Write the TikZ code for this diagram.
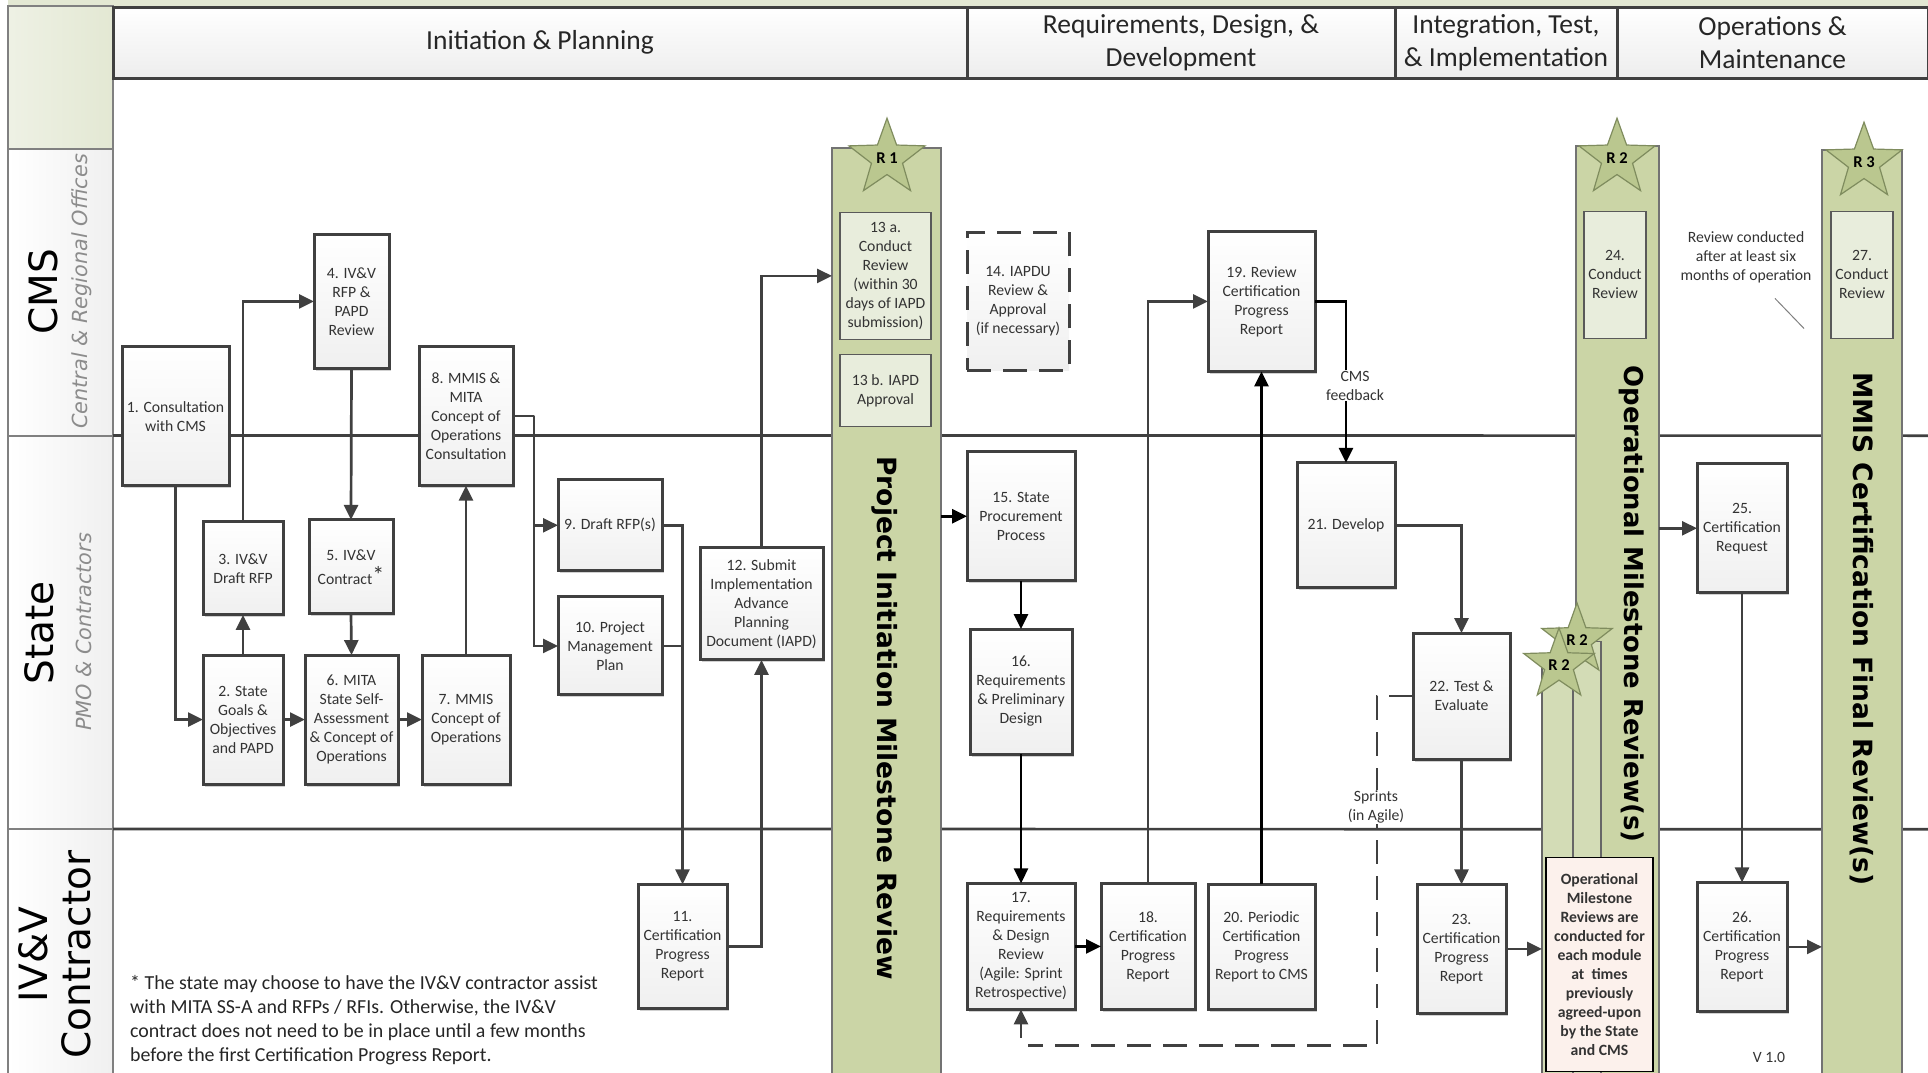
\documentclass[tikz,border=0pt]{standalone}
\usepackage{fontspec}
\setmainfont{Carlito}
\newfontfamily\vfam{DejaVu Sans}
\usetikzlibrary{shapes.geometric,shadows,arrows.meta,calc}
\definecolor{ink}{HTML}{404040}
\definecolor{txt}{HTML}{333333}
\definecolor{barg}{HTML}{CBD5A6}
\definecolor{barl}{HTML}{D3DCB6}
\definecolor{bandg}{HTML}{E3E8D3}
\definecolor{inner}{HTML}{E8EDDC}
\definecolor{pinkb}{HTML}{FCF1EC}
\definecolor{starf}{HTML}{BAC78F}
\definecolor{stard}{HTML}{7F8C5E}
\tikzset{
 base/.style={rectangle,inner sep=0pt,outer sep=0pt,align=center,text=txt,font=\fontsize{15.7}{19}\selectfont},
 procbox/.style={base,draw=ink,line width=3pt,top color=white,bottom color=black!6,drop shadow={shadow xshift=2pt,shadow yshift=-2.5pt,opacity=.18,fill=black}},
 dashbox/.style={base,draw=ink,line width=3pt,dash pattern=on 24pt off 12pt,top color=white,bottom color=black!6},
 innerbox/.style={base,draw=black!65,line width=1.8pt,fill=inner},
 notebox/.style={base,draw=black,line width=1.4pt,fill=pinkb,font=\fontsize{15.7}{19}\selectfont\bfseries},
 hdr/.style={base,draw=ink,line width=3pt,top color=white,bottom color=black!7,text=black!85,font=\fontsize{27.5}{32.5}\selectfont},
 bar/.style={rectangle,inner sep=0pt,outer sep=0pt,fill=barg,draw=black!55,line width=1.4pt},
 lane/.style={rectangle,inner sep=0pt,outer sep=0pt,left color=white,right color=black!6,draw=black!50,line width=1.4pt},
 rstar/.style={star,star points=5,star point ratio=2.45,inner sep=0pt,outer sep=0pt,draw=stard,line width=1.2pt,fill=starf,text=black,font=\fontsize{16.5}{16.5}\selectfont\bfseries},
 barlabel/.style={rotate=-90,inner sep=0pt,text=black,font=\vfam\bfseries\fontsize{26.5}{30}\selectfont},
 lanemain/.style={rotate=90,inner sep=0pt,text=black,font=\vfam\fontsize{39}{46}\selectfont,align=center},
 lanesub/.style={rotate=90,inner sep=0pt,text=black!45,font=\vfam\itshape\fontsize{20.8}{26}\selectfont},
 conn/.style={draw=ink,line width=2.7pt,-{Triangle[length=15pt,width=14pt]}},
 connb/.style={draw=black,line width=2.7pt,-{Triangle[length=15pt,width=14pt]}},
 plainline/.style={draw=ink,line width=2.7pt},
 free/.style={inner sep=1pt,text=txt,align=center,font=\fontsize{15.7}{19}\selectfont},
}
\newcommand{\rbox}[7][procbox]{%
 \node[#1,minimum width={(#5-#3)*1pt},minimum height={(#6-#4)*1pt}] (#2) at ({(#3+#5)/2},{(#4+#6)/2}) {#7};}
\begin{document}
\begin{tikzpicture}[x=1pt,y=-1.0015pt]
\useasboundingbox (0,0) rectangle (1928,1071.4);
% background bands
\fill[bandg] (8,0) rectangle (1928,6);
\node[rectangle,inner sep=0pt,outer sep=0pt,left color=bandg!60!white,right color=bandg,draw=black!50,line width=1.4pt,minimum width=105pt,minimum height=143pt] (cellTop) at (60.5,77.5) {};
\rbox[lane]{laneCMS}{8}{149}{113}{435}{}
\rbox[lane]{laneState}{8}{435}{113}{828}{}
\rbox[lane]{laneIVV}{8}{828}{113}{1073}{}
\coordinate (endCMS) at (1928,435);
\coordinate (endState) at (1928,828);
\draw[plainline] (laneCMS.south east) -- (endCMS);
\draw[plainline] (laneState.south east) -- (endState);
% lane titles
\node[lanemain] (tCMS) at (43,291) {CMS};
\node[lanesub] (sCMS) at (82,291) {Central \& Regional Offices};
\node[lanemain] (tState) at (39,632) {State};
\node[lanesub] (sState) at (84,631) {PMO \& Contractors};
\node[lanemain] (tIVV) at (55,953) {IV\&V\\[-3pt]Contractor};
% headers
\rbox[hdr]{h1}{113}{7}{967}{78}{Initiation \& Planning}
\rbox[hdr]{h2}{967}{7}{1395}{78}{Requirements, Design, \&\\Development}
\rbox[hdr]{h3}{1395}{7}{1617}{78}{Integration, Test,\\\& Implementation}
\rbox[hdr]{h4}{1617}{7}{1928}{78}{Operations \&\\Maintenance}
% milestone bars
\rbox[bar]{barR1}{832}{147}{941}{1073}{}
\rbox[bar]{barR2}{1576}{145}{1659}{1073}{}
\rbox[bar]{barR3}{1822}{149}{1902}{1073}{}
\rbox[bar,fill=barl,draw=black!60]{barB}{1573}{640}{1601}{1073}{}
\rbox[bar,fill=barl,draw=black!60]{barA}{1542}{665}{1573}{1073}{}
\node[barlabel] (lR1) at (885,717) {Project Initiation Milestone Review};
\node[barlabel,font=\vfam\bfseries\fontsize{25.9}{30}\selectfont] (lR2) at (1632,603) {Operational Milestone Review(s)};
\node[barlabel] (lR3) at (1862,628) {MMIS Certification Final Review(s)};
% stars
\node[rstar,minimum size=80pt] (s1) at (887,158) {R 1};
\node[rstar,minimum size=80pt] (s2) at (1617,158) {R 2};
\node[rstar,minimum size=80pt] (s3) at (1864,162) {R 3};
\node[rstar,minimum size=65pt] (s2b) at (1577,639) {R 2};
\node[rstar,minimum size=65pt] (s2a) at (1559,664) {R 2};
% inner boxes
\rbox[innerbox]{b13a}{840}{212}{931}{339}{13 a.\\Conduct\\Review\\(within 30\\days of IAPD\\submission)}
\rbox[innerbox]{b13b}{840}{354}{931}{426}{13 b. IAPD\\Approval}
\rbox[innerbox]{b24}{1584}{211}{1646}{338}{24.\\Conduct\\Review}
\rbox[innerbox]{b27}{1831}{211}{1893}{338}{27.\\Conduct\\Review}
\rbox[notebox]{note}{1546}{856}{1653}{1070}{Operational\\Milestone\\Reviews are\\conducted for\\each module\\at\ \ times\\previously\\agreed-upon\\by the State\\and CMS}
% process boxes
\rbox{b1}{122}{346}{229}{485}{1. Consultation\\with CMS}
\rbox{b4}{314}{234}{389}{368}{4. IV\&V\\RFP \&\\PAPD\\Review}
\rbox{b8}{419}{346}{513}{485}{8. MMIS \&\\MITA\\Concept of\\Operations\\Consultation}
\rbox{b9}{558}{479}{662}{570}{9. Draft RFP(s)}
\rbox{b3}{203}{521}{283}{614}{3. IV\&V\\Draft RFP}
\rbox{b5}{309}{519}{393}{613}{5. IV\&V\\[5pt]Contract\raisebox{1pt}{\fontsize{24}{24}\selectfont*}}
\rbox{b2}{203}{654}{283}{783}{2. State\\Goals \&\\Objectives\\and PAPD}
\rbox{b6}{305}{654}{398}{783}{6. MITA\\State Self-\\Assessment\\\& Concept of\\Operations}
\rbox{b7}{422}{654}{510}{783}{7. MMIS\\Concept of\\Operations}
\rbox{b10}{558}{596}{662}{694}{10. Project\\Management\\Plan}
\rbox{b12}{700}{547}{823}{659}{12. Submit\\Implementation\\Advance\\Planning\\Document (IAPD)}
\rbox{b11}{638}{883}{727}{1007}{11.\\Certification\\Progress\\Report}
\rbox[dashbox]{b14}{967}{232}{1069}{370}{14. IAPDU\\Review \&\\Approval\\(if necessary)}
\rbox{b19}{1208}{231}{1315}{371}{19. Review\\Certification\\Progress\\Report}
\rbox{b15}{967}{451}{1075}{580}{15. State\\Procurement\\Process}
\rbox{b21}{1297}{462}{1395}{587}{21. Develop}
\rbox{b25}{1697}{463}{1787}{592}{25.\\Certification\\Request}
\rbox{b16}{970}{628}{1072}{753}{16.\\Requirements\\\& Preliminary\\Design}
\rbox{b17}{967}{882}{1075}{1008}{17.\\Requirements\\\& Design\\Review\\(Agile: Sprint\\Retrospective)}
\rbox{b18}{1101}{882}{1195}{1008}{18.\\Certification\\Progress\\Report}
\rbox{b20}{1208}{883}{1315}{1008}{20. Periodic\\Certification\\Progress\\Report to CMS}
\rbox{b22}{1413}{632}{1510}{758}{22. Test \&\\Evaluate}
\rbox{b23}{1417}{883}{1506}{1012}{23.\\Certification\\Progress\\Report}
\rbox{b26}{1697}{881}{1787}{1010}{26.\\Certification\\Progress\\Report}
% connectors
\coordinate (j8) at (534,415);
\draw[conn] (b1.south) |- (b2.west);
\draw[conn] (b2.north) -- (b3.south);
\draw[conn] (b3.north) |- (b4.west);
\draw[conn] (b4.south) -- (b5.north);
\draw[conn] (b5.south) -- (b6.north);
\draw[conn] (b2.east) -- (b6.west);
\draw[conn] (b6.east) -- (b7.west);
\draw[conn] (b7.north) -- (b8.south);
\draw[conn] (b8.east) -| (j8) |- (b9.west);
\draw[conn] (j8) |- (b10.west);
\draw[conn] (b9.east) -| (b11.north);
\draw[plainline] (b10.east) -- (b10.east -| b11.north);
\draw[conn] (b11.east) -| (b12.south);
\draw[conn] (b12.north) |- (barR1.west |- b13a.west);
\draw[connb] (barR1.east |- b15.west) -- (b15.west);
\draw[connb] (b15.south) -- (b16.north);
\draw[connb] (b16.south) -- (b17.north);
\draw[connb] (b17.east) -- (b18.west);
\draw[conn] (b18.north) |- (b19.west);
\draw[connb] (b20.north) -- (b19.south);
\draw[connb] (b19.east) -| (b21.north);
\draw[conn] (b21.east) -| (b22.north);
\draw[conn] (b22.south) -- (b23.north);
\draw[conn] (b23.east) -- (barA.west |- b23.east);
\draw[conn] (barR2.east |- b25.west) -- (b25.west);
\draw[conn] (b25.south) -- (b26.north);
\draw[conn] (b26.east) -- (barR3.west |- b26.east);
% dashed sprint loop
\coordinate (dc1) at (1377,1044);
\coordinate (dc2) at (1028,1044);
\coordinate (dc3) at (1021,1036);
\draw[plainline,dash pattern=on 24pt off 12pt] (b22.west) -| (dc1) -- (dc2);
\draw[conn] (dc3) -- (b17.south);
% labels
\node[free,fill=white] (lCMS) at (1355,385) {CMS\\feedback};
\node[free,fill=white] (lSpr) at (1376,806) {Sprints\\(in Agile)};
\node[free] (lRev) at (1746,257) {Review conducted\\after at least six\\months of operation};
\coordinate (sl1) at (1775,298);
\coordinate (sl2) at (1804,328);
\draw[black!50,line width=1pt] (sl1) -- (sl2);
\node[inner sep=0pt,anchor=west,align=left,text=black!85,font=\fontsize{19.9}{24}\selectfont] (foot) at (130,1019) {* The state may choose to have the IV\&V contractor assist\\with MITA SS-A and RFPs / RFIs. Otherwise, the IV\&V\\contract does not need to be in place until a few months\\before the first Certification Progress Report.};
\node[free] (ver) at (1769,1056) {V 1.0};
\end{tikzpicture}
\end{document}
